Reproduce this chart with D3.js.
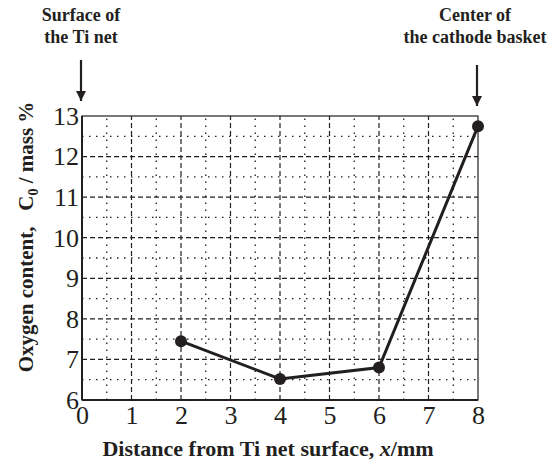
<!DOCTYPE html>
<html>
<head>
<meta charset="utf-8">
<script src="https://cdn.jsdelivr.net/npm/d3@7"></script>
<style>
  body { margin: 0; background: #fff; }
  text { font-family: "Liberation Serif", "Times New Roman", serif; fill: #231f20; }
</style>
</head>
<body>
<svg id="chart" width="554" height="466"></svg>
<script>
// data
const distance = [2, 4, 6, 8];
const oxygen = [7.45, 6.52, 6.8, 12.75];
const x_ticks = [0, 1, 2, 3, 4, 5, 6, 7, 8];
const y_ticks = [6, 7, 8, 9, 10, 11, 12, 13];
const x_minor = [0.5, 1.5, 2.5, 3.5, 4.5, 5.5, 6.5, 7.5];
const y_minor = [6.5, 7.5, 8.5, 9.5, 10.5, 11.5, 12.5];

const svg = d3.select("#chart");
const ink = "#231f20";

let x = d3.scaleLinear().domain([0, 8]).range([82, 478]);
let y = d3.scaleLinear().domain([6, 13]).range([400, 116]);

// arrow marker
svg.append("defs").append("marker")
    .attr("id", "arrow")
    .attr("viewBox", "0 0 10 10")
    .attr("refX", 10).attr("refY", 5)
    .attr("markerWidth", 10).attr("markerHeight", 10)
    .attr("markerUnits", "userSpaceOnUse")
    .attr("orient", "auto")
    .append("path")
    .attr("d", "M0,0 L10,5 L0,10 z")
    .attr("fill", ink);

let grid = svg.append("g");

// minor grid (dotted)
grid.selectAll(".vminor").data(x_minor).enter().append("line")
    .attr("x1", d => x(d)).attr("x2", d => x(d))
    .attr("y1", y(6)).attr("y2", y(13))
    .style("stroke", ink).style("stroke-width", 1.3)
    .style("stroke-dasharray", "1.5,5.5");
grid.selectAll(".hminor").data(y_minor).enter().append("line")
    .attr("x1", x(0)).attr("x2", x(8))
    .attr("y1", d => y(d)).attr("y2", d => y(d))
    .style("stroke", ink).style("stroke-width", 1.3)
    .style("stroke-dasharray", "1.5,5.5");

// major grid (dashed)
grid.selectAll(".vmajor").data(x_ticks.slice(1, -1)).enter().append("line")
    .attr("x1", d => x(d)).attr("x2", d => x(d))
    .attr("y1", y(6)).attr("y2", y(13))
    .style("stroke", ink).style("stroke-width", 1.2)
    .style("stroke-dasharray", "5,3");
grid.selectAll(".hmajor").data(y_ticks.slice(1, -1)).enter().append("line")
    .attr("x1", x(0)).attr("x2", x(8))
    .attr("y1", d => y(d)).attr("y2", d => y(d))
    .style("stroke", ink).style("stroke-width", 1.2)
    .style("stroke-dasharray", "5,3");

// frame
svg.append("rect")
    .attr("x", x(0)).attr("y", y(13))
    .attr("width", x(8) - x(0)).attr("height", y(6) - y(13))
    .attr("fill", "none")
    .style("stroke", ink).style("stroke-width", 1.2);
svg.append("line")
    .attr("x1", x(0)).attr("x2", x(0)).attr("y1", y(13)).attr("y2", y(6))
    .style("stroke", ink).style("stroke-width", 2);
svg.append("line")
    .attr("x1", x(0)).attr("x2", x(8)).attr("y1", y(6)).attr("y2", y(6))
    .style("stroke", ink).style("stroke-width", 2);

// axes tick labels
let xAxis = svg.append("g")
    .attr("transform", "translate(0," + y(6) + ")")
    .call(d3.axisBottom(x).tickValues(x_ticks).tickSize(0).tickPadding(6).tickFormat(d3.format("d")));
xAxis.select(".domain").remove();
xAxis.selectAll("text").style("font-size", "26px").attr("fill", ink)
    .attr("font-family", "Liberation Serif");

let yAxis = svg.append("g")
    .attr("transform", "translate(" + x(0) + ",0)")
    .call(d3.axisLeft(y).tickValues(y_ticks).tickSize(0).tickPadding(3).tickFormat(d3.format("d")));
yAxis.select(".domain").remove();
yAxis.selectAll("text").style("font-size", "26px").attr("fill", ink)
    .attr("font-family", "Liberation Serif");

// data line + markers
let line = d3.line()
    .x((d, i) => x(distance[i]))
    .y(d => y(d));
svg.append("path")
    .datum(oxygen)
    .attr("d", line)
    .attr("fill", "none")
    .style("stroke", ink).style("stroke-width", 3);
svg.selectAll(".pt").data(oxygen).enter().append("circle")
    .attr("cx", (d, i) => x(distance[i]))
    .attr("cy", d => y(d))
    .attr("r", 6)
    .attr("fill", ink);

// axis titles
svg.append("text")
    .attr("x", 268).attr("y", 456)
    .attr("text-anchor", "middle")
    .style("font-size", "22px").style("font-weight", "bold")
    .html('Distance from Ti net surface, <tspan font-style="italic">x</tspan>/mm');

let ytitle = svg.append("text")
    .attr("transform", "translate(33,237) rotate(-90)")
    .attr("text-anchor", "middle")
    .style("font-size", "21px").style("font-weight", "bold")
    .attr("xml:space", "preserve")
    .style("white-space", "pre");
ytitle.append("tspan").text("Oxygen content,   C");
ytitle.append("tspan").attr("dy", 5).style("font-size", "14px").text("0");
ytitle.append("tspan").attr("dy", -5).text(" / mass %");

// annotations
const notes = [
    {lines: ["Surface of", "the Ti net"], cx: 81, ax: 81, y0: 60, y1: 101},
    {lines: ["Center of", "the cathode basket"], cx: 475, ax: 477, y0: 65, y1: 106}
];
notes.forEach(function (n) {
    n.lines.forEach(function (t, i) {
        svg.append("text")
            .attr("x", n.cx).attr("y", 21 + i * 22)
            .attr("text-anchor", "middle")
            .style("font-size", "18px").style("font-weight", "bold")
            .text(t);
    });
    svg.append("line")
        .attr("x1", n.ax).attr("x2", n.ax)
        .attr("y1", n.y0).attr("y2", n.y1)
        .style("stroke", ink).style("stroke-width", 2.2)
        .attr("marker-end", "url(#arrow)");
});
</script>
</body>
</html>
